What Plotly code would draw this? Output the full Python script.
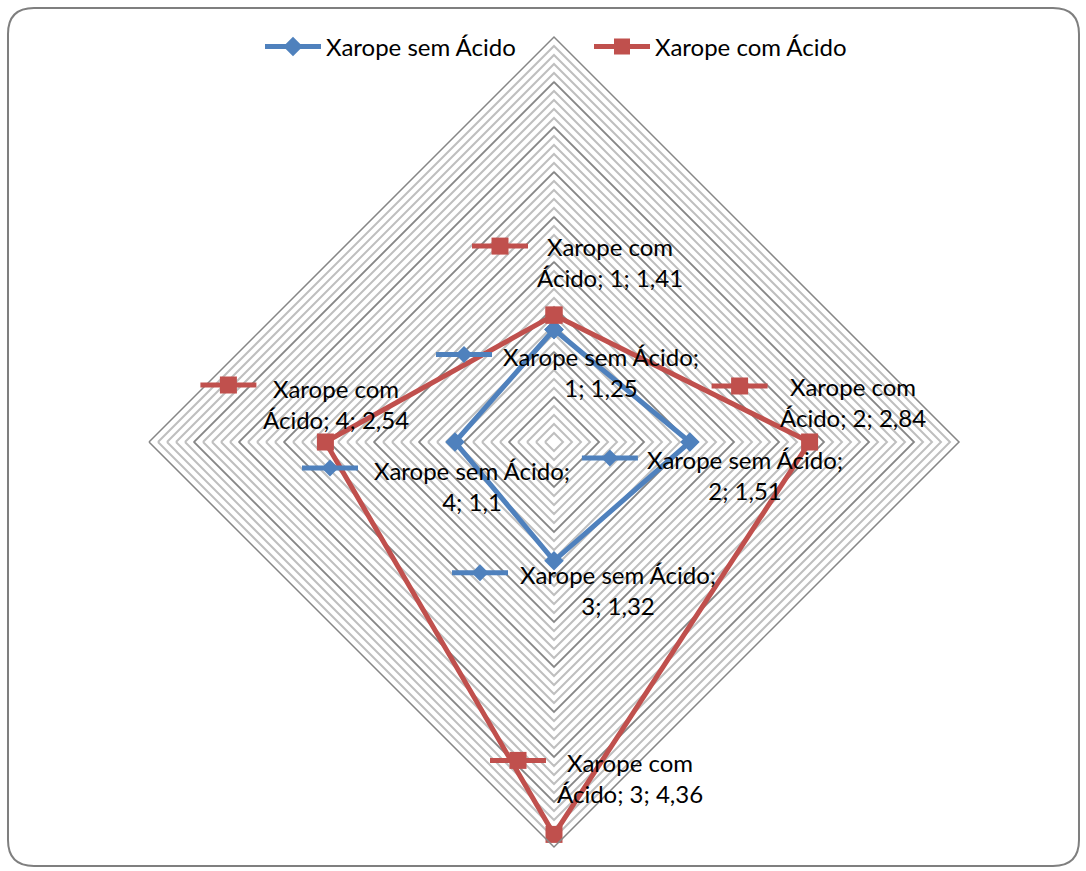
import plotly.graph_objects as go
import math

# ---- data ----
categories = ["1", "2", "3", "4"]
series_names = ["Xarope sem Ácido", "Xarope com Ácido"]
sem_acido = [1.25, 1.51, 1.32, 1.10]
com_acido = [1.41, 2.84, 4.36, 2.54]
radial_max = 4.5
minor_step = 0.1
major_levels = [0.5, 1.0, 1.5, 2.0, 2.5, 3.0, 3.5, 4.0]

# ---- layout geometry / style ----
W, H = 1086, 871
CX, CY, R = 554, 442, 405
BLUE = "#4F81BD"
RED = "#C0504D"
MINOR = "#BFBFBF"
MAJOR = "#868686"
FONT = "Lato"
FS = 24


def px(x, y):
    return x / W, 1 - y / H


def point_px(r, k):
    a = math.radians(90 * k)
    rr = r / radial_max * R
    return CX + rr * math.sin(a), CY - rr * math.cos(a)


def fmt(v):
    s = ("%.2f" % v).rstrip("0").rstrip(".")
    return s.replace(".", ",")


fig = go.Figure()

theta_closed = categories + [categories[0]]
for lv in major_levels:
    fig.add_trace(go.Scatterpolar(
        r=[lv] * 5, theta=theta_closed, mode="lines",
        line=dict(color=MAJOR, width=1.5), showlegend=False, hoverinfo="skip"))

series = [
    (series_names[0], sem_acido, BLUE, "diamond", 15),
    (series_names[1], com_acido, RED, "square", 17),
]
for name, vals, col, sym, ms in series:
    fig.add_trace(go.Scatterpolar(
        r=vals + [vals[0]], theta=theta_closed, mode="lines+markers", name=name,
        line=dict(color=col, width=5), marker=dict(symbol=sym, size=ms, color=col)))

n_minor = int(round(radial_max / minor_step))
fig.update_layout(
    width=W, height=H, margin=dict(l=0, r=0, t=0, b=0),
    paper_bgcolor="white", plot_bgcolor="white",
    font=dict(family=FONT, size=FS, color="black"),
    polar=dict(
        domain=dict(x=[(CX - R) / W, (CX + R) / W], y=[1 - (CY + R) / H, 1 - (CY - R) / H]),
        gridshape="linear", bgcolor="white",
        radialaxis=dict(range=[0, radial_max], tickvals=[round(i * minor_step, 2) for i in range(1, n_minor)],
                        showticklabels=False, ticks="", showline=False,
                        gridcolor=MINOR, gridwidth=1.5),
        angularaxis=dict(type="category", categoryarray=categories, rotation=90, direction="clockwise",
                         showticklabels=False, ticks="", showgrid=False,
                         showline=True, linecolor=MAJOR, linewidth=1.5),
    ),
    legend=dict(orientation="h", x=260 / W, xanchor="left", y=1 - 47 / H, yanchor="middle",
                itemwidth=56, font=dict(family=FONT, size=FS), entrywidth=258,
                bgcolor="rgba(0,0,0,0)"),
    showlegend=True,
)

# ---- data labels (series name; category; value) with legend key ----
# offsets in px relative to the point: (text center dx, dy), (key center dx, dy)
label_offsets = {
    (0, 0): ((47, 42), (-90, 25)),
    (0, 1): ((55, 33), (-80, 16)),
    (0, 2): ((64, 29), (-74, 12)),
    (0, 3): ((17, 44), (-125, 26)),
    (1, 0): ((56, -53), (-54, -69)),
    (1, 1): ((43, -40), (-70, -56)),
    (1, 2): ((76, -56), (-36, -74)),
    (1, 3): ((11, -38), (-97, -57)),
}
shapes = []
annotations = []
for si, (name, vals, col, sym, ms) in enumerate(series):
    for k, v in enumerate(vals):
        x0, y0 = point_px(v, k)
        (tdx, tdy), (kdx, kdy) = label_offsets[(si, k)]
        if si == 0:
            txt = "%s;<br>%s; %s" % (name, categories[k], fmt(v))
        else:
            a, b = name.split(" Ácido")[0], "Ácido"
            txt = "%s<br>%s; %s; %s" % (a, b, categories[k], fmt(v))
        tx, ty = px(x0 + tdx, y0 + tdy)
        annotations.append(dict(x=tx, y=ty, xref="paper", yref="paper", text=txt, showarrow=False,
                                xanchor="center", yanchor="middle", align="center",
                                font=dict(family=FONT, size=FS, color="black")))
        kx, ky = x0 + kdx, y0 + kdy
        ax0, ay0 = px(kx - 28, ky)
        ax1, ay1 = px(kx + 28, ky)
        shapes.append(dict(type="line", xref="paper", yref="paper", x0=ax0, y0=ay0, x1=ax1, y1=ay1,
                           line=dict(color=col, width=5), layer="above"))
        if sym == "square":
            h = ms / 2
            p0 = px(kx - h, ky - h)
            p1 = px(kx + h, ky + h)
            shapes.append(dict(type="rect", xref="paper", yref="paper", x0=p0[0], y0=p0[1], x1=p1[0], y1=p1[1],
                               fillcolor=col, line=dict(width=0), layer="above"))
        else:
            h = 8.5
            pts = [px(kx, ky - h), px(kx + h, ky), px(kx, ky + h), px(kx - h, ky)]
            path = "M " + " L ".join("%f,%f" % p for p in pts) + " Z"
            shapes.append(dict(type="path", xref="paper", yref="paper", path=path,
                               fillcolor=col, line=dict(width=0), layer="above"))

# rounded chart border
L, T, Rt, B, rad = 8, 8, 1079, 866, 26
def P(x, y):
    a, b = px(x, y)
    return "%f,%f" % (a, b)
border = ("M %s L %s Q %s %s L %s Q %s %s L %s Q %s %s L %s Q %s %s Z" % (
    P(L + rad, T), P(Rt - rad, T), P(Rt, T), P(Rt, T + rad), P(Rt, B - rad), P(Rt, B), P(Rt - rad, B),
    P(L + rad, B), P(L, B), P(L, B - rad), P(L, T + rad), P(L, T), P(L + rad, T)))
shapes.append(dict(type="path", xref="paper", yref="paper", path=border,
                   line=dict(color="#7F7F7F", width=2), layer="below"))

fig.update_layout(shapes=shapes, annotations=annotations)
fig.write_html("out.html")
